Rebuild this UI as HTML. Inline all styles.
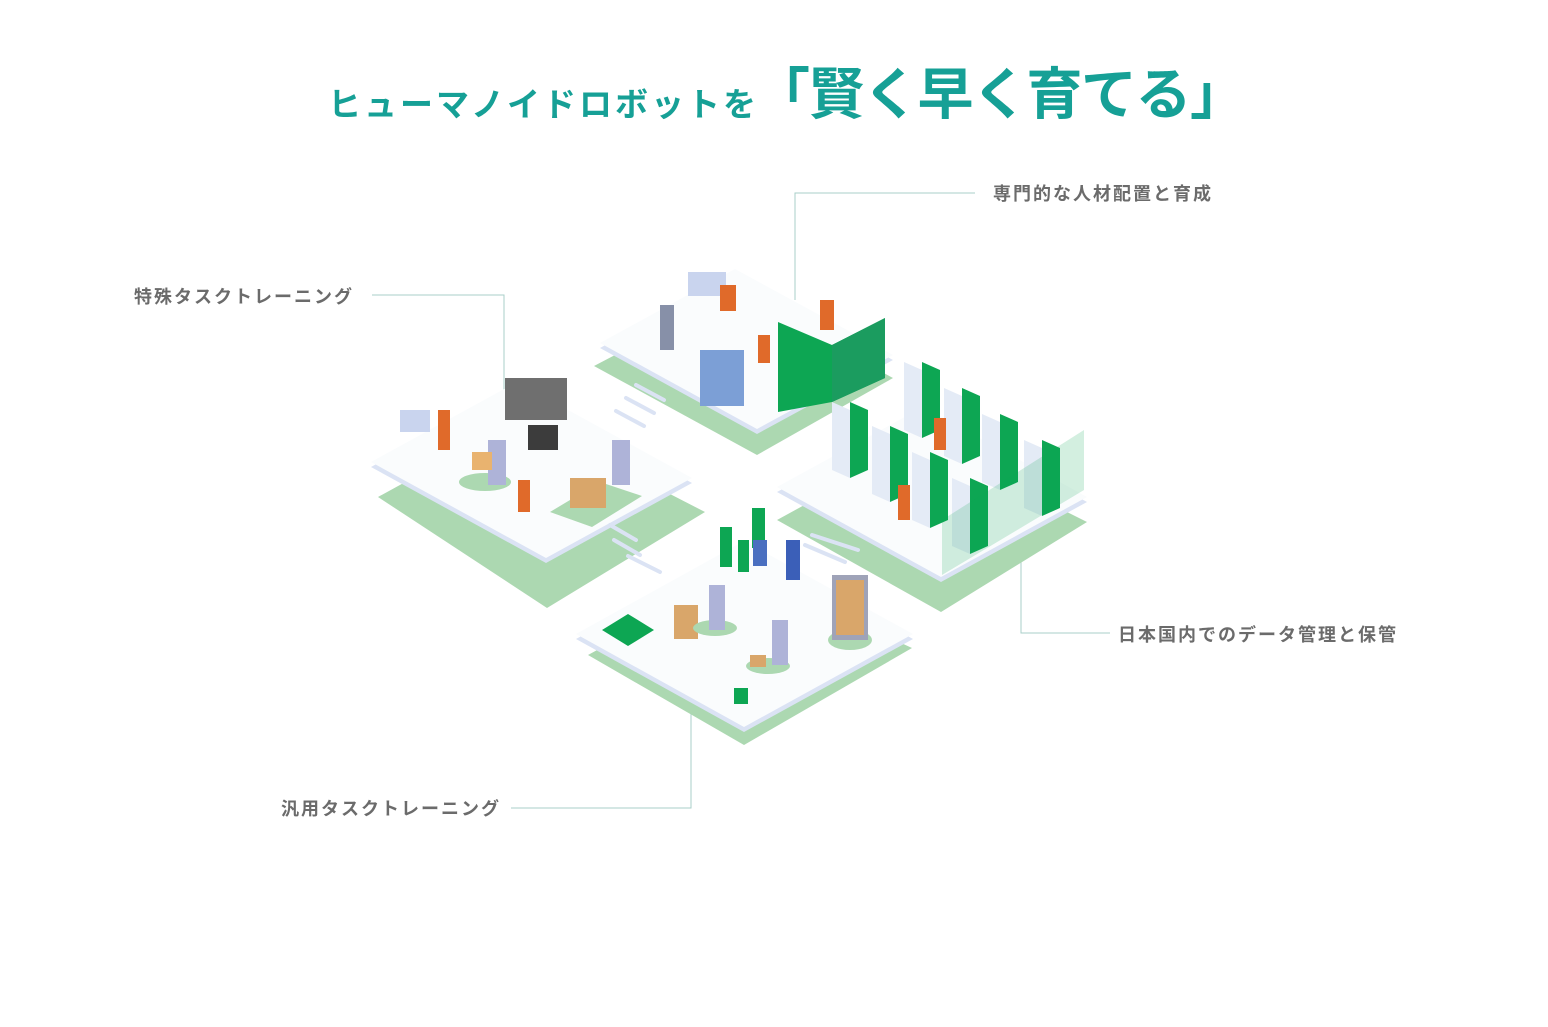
<!DOCTYPE html>
<html><head><meta charset="utf-8"><style>
html,body{margin:0;padding:0;background:#fff;}
body{width:1548px;height:1027px;position:relative;overflow:hidden;font-family:"Liberation Sans","Noto Sans CJK JP",sans-serif;}
.t{position:absolute;color:#16a096;font-weight:bold;white-space:nowrap;}
.l{position:absolute;color:#6b6b6b;font-weight:bold;font-size:18px;letter-spacing:2px;white-space:nowrap;}
</style></head><body>
<div class="t" style="left:328px;top:78px;font-size:33px;letter-spacing:3px;">ヒューマノイドロボットを</div>
<div class="t" style="left:754px;top:50px;font-size:56px;letter-spacing:-1.5px;">「賢く早く育てる」</div>
<div class="l" style="left:993px;top:180px;">専門的な人材配置と育成</div>
<div class="l" style="left:134px;top:283px;">特殊タスクトレーニング</div>
<div class="l" style="left:1118px;top:621px;">日本国内でのデータ管理と保管</div>
<div class="l" style="left:281px;top:795px;">汎用タスクトレーニング</div>
<svg width="1548" height="1027" style="position:absolute;left:0;top:0">
<g fill="none" stroke="#a9cfc9" stroke-width="1">
<polyline points="975,193 795,193 795,300"/>
<polyline points="372,295 504,295 504,390"/>
<polyline points="1021,515 1021,633 1110,633"/>
<polyline points="511,808 691,808 691,688"/>
</g>
<g fill="#acd8b1">
<polygon points="378,497 522,418 705,512 547,608"/>
<polygon points="594,366 735,292 893,378 757,455"/>
<polygon points="777,520 923,440 1087,522 941,612"/>
<polygon points="588,655 744,570 912,648 744,745"/>
</g>
<g fill="#dbe3f4">
<polygon points="371,467 517,387 692,483 546,563"/>
<polygon points="600,348 735,274 893,360 757,434"/>
<polygon points="777,492 923,412 1087,502 941,582"/>
<polygon points="576,639 744,546 913,639 744,732"/>
</g>
<g fill="#fafcfd">
<polygon points="371,462 517,382 692,478 546,558"/>
<polygon points="600,343 735,269 893,355 757,429"/>
<polygon points="777,487 923,407 1087,497 941,577"/>
<polygon points="576,634 744,541 913,634 744,727"/>
</g>
<g fill="#fff" stroke="#dbe3f4" stroke-width="4" stroke-linecap="round">
<line x1="636" y1="385" x2="664" y2="400"/><line x1="626" y1="398" x2="654" y2="413"/><line x1="616" y1="411" x2="644" y2="426"/>
<line x1="610" y1="525" x2="636" y2="540"/><line x1="614" y1="540" x2="640" y2="555"/><line x1="628" y1="556" x2="660" y2="572"/>
<line x1="812" y1="535" x2="858" y2="550"/><line x1="805" y1="545" x2="845" y2="562"/>
</g>
<polygon points="778,322 832,345 885,318 885,378 832,402 778,412" fill="#0da653"/>
<polygon points="832,345 885,318 885,378 832,402" fill="#1b9c5f"/>
<rect x="700" y="350" width="44" height="56" fill="#7c9fd6"/>
<rect x="688" y="272" width="38" height="24" fill="#c9d4ee"/>
<rect x="720" y="285" width="16" height="26" fill="#e06a2a"/>
<rect x="660" y="305" width="14" height="45" fill="#8790a8"/>
<rect x="820" y="300" width="14" height="30" fill="#e06a2a"/>
<rect x="758" y="335" width="12" height="28" fill="#e06a2a"/>
<rect x="505" y="378" width="62" height="42" fill="#6f6f6f"/>
<rect x="528" y="425" width="30" height="25" fill="#3c3c3c"/>
<rect x="400" y="410" width="30" height="22" fill="#c9d4ee"/>
<rect x="438" y="410" width="12" height="40" fill="#e06a2a"/>
<ellipse cx="485" cy="482" rx="26" ry="9" fill="#acd8b1"/>
<rect x="488" y="440" width="18" height="45" fill="#aeb3d8"/>
<rect x="472" y="452" width="20" height="18" fill="#e9b36f"/>
<rect x="518" y="480" width="12" height="32" fill="#e06a2a"/>
<polygon points="550,512 600,482 642,496 592,527" fill="#acd8b1"/>
<rect x="570" y="478" width="36" height="30" fill="#d9a66a"/>
<rect x="612" y="440" width="18" height="45" fill="#aeb3d8"/>
<g fill="#0da653">
<polygon points="850,402 868,410 868,470 850,478"/>
<polygon points="890,426 908,434 908,494 890,502"/>
<polygon points="922,362 940,370 940,430 922,438"/>
<polygon points="962,388 980,396 980,456 962,464"/>
<polygon points="1000,414 1018,422 1018,482 1000,490"/>
<polygon points="1042,440 1060,448 1060,508 1042,516"/>
<polygon points="930,452 948,460 948,520 930,528"/>
<polygon points="970,478 988,486 988,546 970,554"/>
</g>
<g fill="#e4ebf6">
<polygon points="832,402 850,410 850,478 832,470"/>
<polygon points="872,426 890,434 890,502 872,494"/>
<polygon points="904,362 922,370 922,438 904,430"/>
<polygon points="944,388 962,396 962,464 944,456"/>
<polygon points="982,414 1000,422 1000,490 982,482"/>
<polygon points="1024,440 1042,448 1042,516 1024,508"/>
<polygon points="912,452 930,460 930,528 912,520"/>
<polygon points="952,478 970,486 970,554 952,546"/>
</g>
<polygon points="942,520 1084,430 1084,490 942,575" fill="#0da653" opacity="0.18"/>
<rect x="898" y="485" width="12" height="35" fill="#e06a2a"/>
<rect x="934" y="418" width="12" height="32" fill="#e06a2a"/>
<g fill="#0da653">
<rect x="720" y="527" width="12" height="40"/>
<rect x="752" y="508" width="13" height="40"/>
<rect x="738" y="540" width="11" height="32"/>
<polygon points="602,630 628,614 654,630 628,646"/>
<rect x="734" y="688" width="14" height="16"/>
</g>
<rect x="753" y="540" width="14" height="26" fill="#4a6fc0"/>
<rect x="786" y="540" width="14" height="40" fill="#3b5fb8"/>
<rect x="674" y="605" width="24" height="34" fill="#d9a66a"/>
<ellipse cx="715" cy="628" rx="22" ry="8" fill="#acd8b1"/>
<rect x="709" y="585" width="16" height="45" fill="#aeb3d8"/>
<ellipse cx="768" cy="666" rx="22" ry="8" fill="#acd8b1"/>
<rect x="772" y="620" width="16" height="45" fill="#aeb3d8"/>
<rect x="750" y="655" width="16" height="12" fill="#d9a66a"/>
<ellipse cx="850" cy="640" rx="22" ry="10" fill="#acd8b1"/>
<rect x="832" y="575" width="36" height="65" fill="#9fa3b8"/>
<rect x="836" y="580" width="28" height="55" fill="#d9a66a"/>
</svg>
</body></html>
